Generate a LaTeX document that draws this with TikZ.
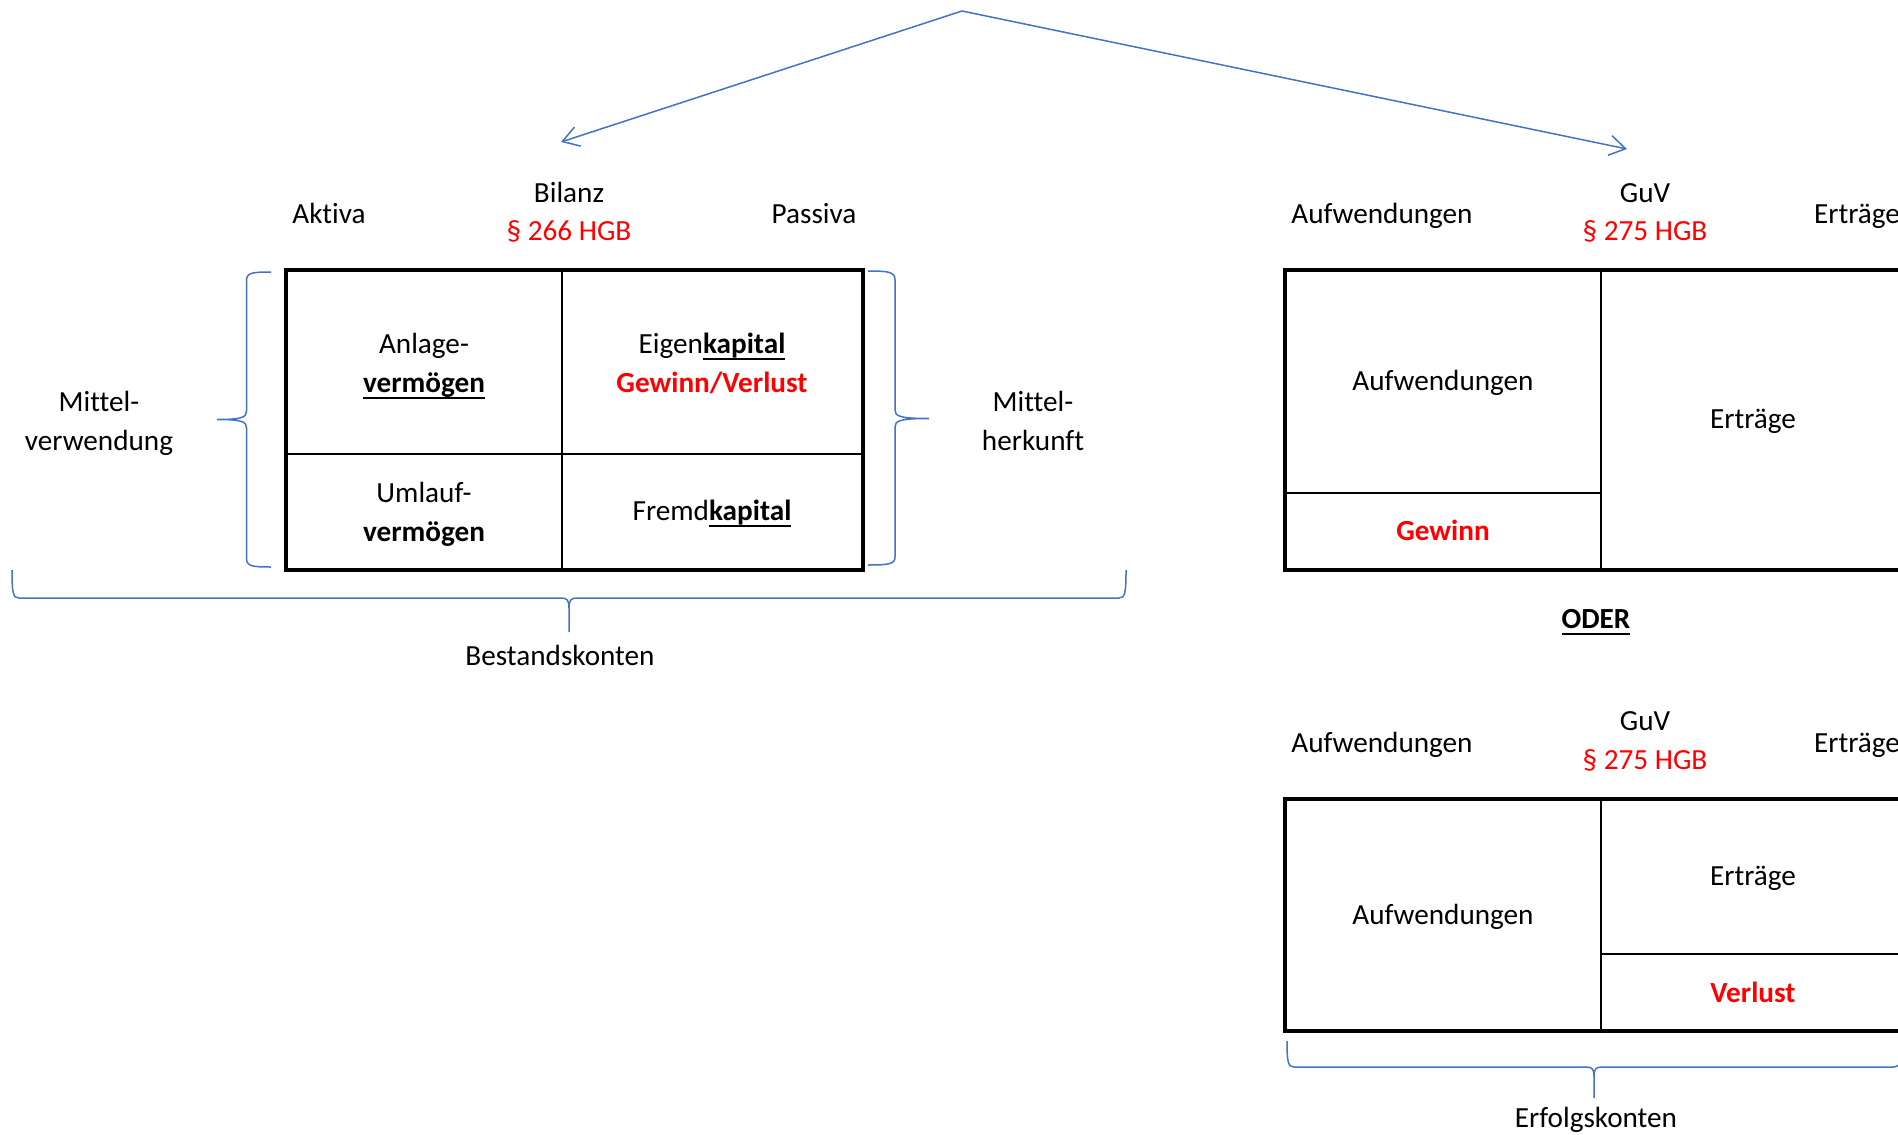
\documentclass[tikz,border=0pt]{standalone}
\usepackage{fontspec}
\setmainfont{Carlito}[Ligatures={NoCommon}]
\usetikzlibrary{arrows.meta}
\definecolor{msblue}{HTML}{4472C4}
\definecolor{hgbred}{HTML}{FF0000}
\newcommand{\ulbox}[1]{\setbox0\hbox{#1}\rlap{\rule[-3.4pt]{\wd0}{0.9pt}}\box0}
\begin{document}
\begin{tikzpicture}[x=0.5pt,y=-0.5pt,
  every node/.style={font=\fontsize{14.6}{19.3}\selectfont, inner sep=0pt, outer sep=0pt},
  lbl/.style={text height=12.95pt, text depth=5.55pt},
  lbltwo/.style={align=center},
  hgb/.style={text=hgbred},
  boxline/.style={draw=black, line width=1.7pt},
  cellline/.style={draw=black, line width=1.4pt},
  bluebrace/.style={draw=msblue, line width=0.75pt},
  bluearrow/.style={draw=msblue, line width=0.75pt, -{Straight Barb[length=8pt,width=10pt]}}]

\useasboundingbox (0,0) rectangle (1898,1134);
\clip (0,0) rectangle (1898,1134);

% ---------- arrows from the top
\coordinate (apex) at (962,11);
\coordinate (tipbilanz) at (561,142);
\coordinate (tipguv) at (1627,149);
\draw[bluearrow] (apex) -- (tipbilanz);
\draw[bluearrow] (apex) -- (tipguv);

% ---------- Bilanz
\node[lbl] (aktiva) at (329,216) {Aktiva};
\node[lbl] (bilanz) at (569,195) {Bilanz};
\node[lbl,hgb] (hgbbil) at (569,233) {§ 266 HGB};
\node[lbl] (passiva) at (814,216) {Passiva};

\draw[cellline] (562,270) -- (562,570);
\draw[cellline] (286,454) -- (863,454);
\draw[boxline] (286,270) rectangle (863,570);

\node[lbltwo] (anlage) at (424,365) {\strut Anlage-\\\strut\ulbox{\textbf{vermögen}}};
\node[lbltwo] (eigen) at (712,365) {\strut Eigen\ulbox{\textbf{kapital}}\\\strut\textcolor{hgbred}{\textbf{Gewinn/Verlust}}};
\node[lbltwo] (umlauf) at (424,514) {\strut Umlauf-\\\strut\textbf{vermögen}};
\node[lbl] (fremd) at (712,513) {Fremd\ulbox{\textbf{kapital}}};

\node[lbltwo] (mverw) at (99,423) {\strut Mittel-\\\strut verwendung};
\node[lbltwo] (mherk) at (1033,423) {\strut Mittel-\\\strut herkunft};

% left brace
\draw[bluebrace] (271,272) .. controls (251,272) and (246.5,273) .. (246.5,281)
  -- (246.5,411) .. controls (246.5,417) and (243,419.5) .. (217,419.5)
  .. controls (243,419.5) and (246.5,422) .. (246.5,428)
  -- (246.5,558) .. controls (246.5,566) and (251,567) .. (271,567);
% right brace
\draw[bluebrace] (868,271) .. controls (889,271) and (895,272) .. (895,280)
  -- (895,410) .. controls (895,416) and (899,418.5) .. (929,418.5)
  .. controls (899,418.5) and (895,421) .. (895,427)
  -- (895,557) .. controls (895,564) and (889,565) .. (868,565);
% bottom brace (Bestandskonten)
\draw[bluebrace] (12,570) .. controls (12,593) and (13,598) .. (19,598)
  -- (561,598) .. controls (567,598) and (569,600) .. (569,608) -- (569,632);
\draw[bluebrace] (1126,570) .. controls (1126,593) and (1125,598) .. (1119,598)
  -- (577,598) .. controls (571,598) and (569,600) .. (569,608);
\node[lbl] (bestand) at (560,658) {Bestandskonten};

% ---------- GuV (Gewinn)
\node[lbl] (aufwAh) at (1382,216) {Aufwendungen};
\node[lbl] (guvA) at (1645,195) {GuV};
\node[lbl,hgb] (hgbguvA) at (1645,233) {§ 275 HGB};
\node[lbl] (ertrAh) at (1857,216) {Erträge};

\draw[cellline] (1601,270) -- (1601,570);
\draw[cellline] (1285,493) -- (1601,493);
\draw[boxline] (1285,270) rectangle (1906,570);

\node[lbl] (aufwA) at (1443,383) {Aufwendungen};
\node[lbl,hgb] (gewinn) at (1443,533) {\textbf{Gewinn}};
\node[lbl] (ertrA) at (1753,421) {Erträge};

\node[lbl] (oder) at (1596,621) {\ulbox{\textbf{ODER}}};

% ---------- GuV (Verlust)
\node[lbl] (aufwBh) at (1382,745) {Aufwendungen};
\node[lbl] (guvB) at (1645,723) {GuV};
\node[lbl,hgb] (hgbguvB) at (1645,762) {§ 275 HGB};
\node[lbl] (ertrBh) at (1857,745) {Erträge};

\draw[cellline] (1601,799) -- (1601,1031);
\draw[cellline] (1601,954) -- (1906,954);
\draw[boxline] (1285,799) rectangle (1906,1031);

\node[lbl] (aufwB) at (1443,917) {Aufwendungen};
\node[lbl] (ertrB) at (1753,878) {Erträge};
\node[lbl,hgb] (verlust) at (1753,995) {\textbf{Verlust}};

% Erfolgskonten brace
\draw[bluebrace] (1287,1041) .. controls (1287,1062) and (1288,1067) .. (1294,1067)
  -- (1586,1067) .. controls (1592,1067) and (1594,1069) .. (1594,1076) -- (1594,1098);
\draw[bluebrace] (1901,1041) .. controls (1901,1062) and (1900,1067) .. (1894,1067)
  -- (1602,1067) .. controls (1596,1067) and (1594,1069) .. (1594,1076);
\node[lbl] (erfolg) at (1596,1120) {Erfolgskonten};

\end{tikzpicture}
\end{document}
